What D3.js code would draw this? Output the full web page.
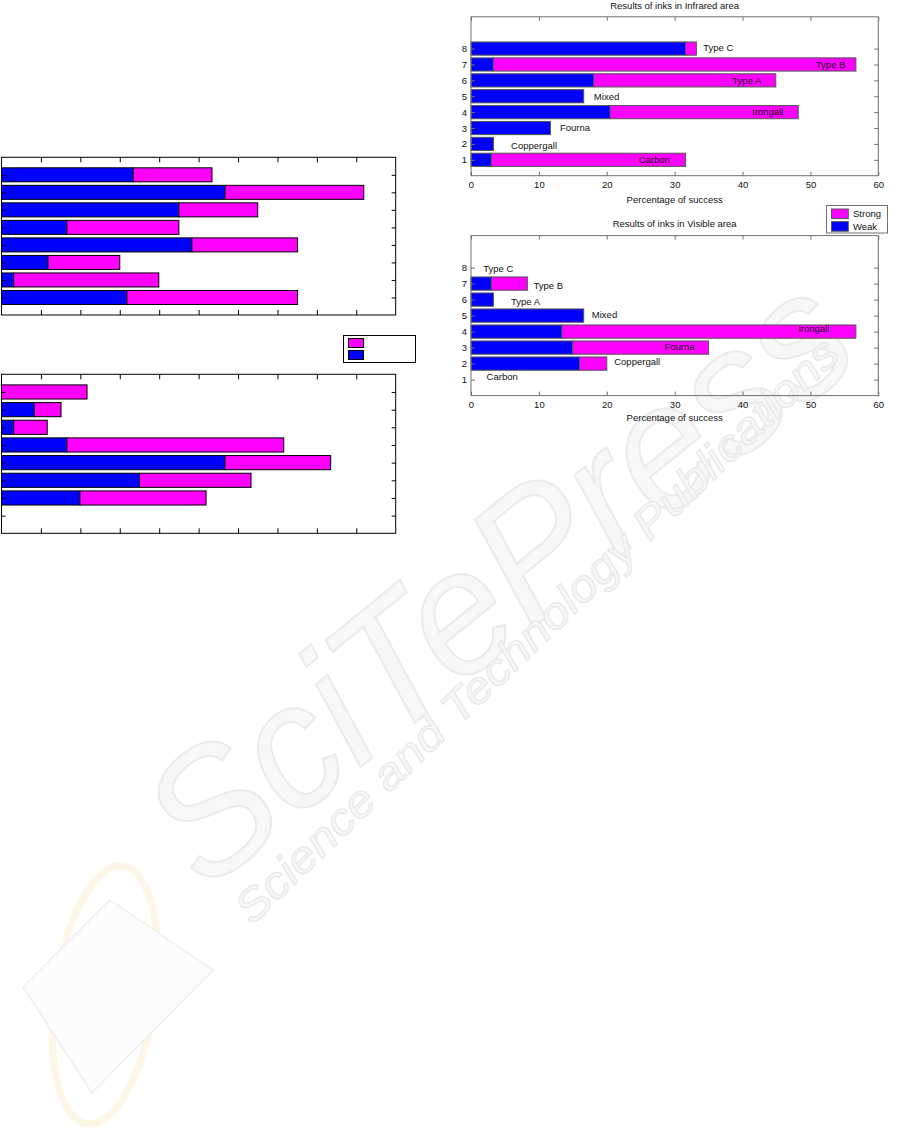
<!DOCTYPE html>
<html><head><meta charset="utf-8">
<script src="https://cdn.jsdelivr.net/npm/d3@7"></script>
<style>body{margin:0;background:#fff} svg{display:block}</style>
</head><body>
<svg id="c" width="906" height="1142"></svg>
<script>
// ---------- data ----------
const categories = [1, 2, 3, 4, 5, 6, 7, 8];
const inkNames = ["Carbon", "Coppergall", "Fourna", "Irongall", "Mixed", "Type A", "Type B", "Type C"];
const xTicks = [0, 10, 20, 30, 40, 50, 60];
const seriesNames = ["Strong", "Weak"];

// Infrared area (percentage of success)
const irWeak   = [3.0, 3.3, 11.7, 20.5, 16.6, 18.1, 3.3, 31.6];
const irStrong = [28.6, 0, 0, 27.7, 0, 26.8, 53.4, 1.6];
const irLabelX = [24.7, 5.9, 13.1, 41.4, 18.1, 38.5, 50.8, 34.2];
const irLabelY = [1.0, 1.88, 3.0, 4.0, 5.0, 6.0, 7.0, 8.05];

// Visible area (percentage of success)
const visWeak   = [0, 16.0, 15.0, 13.4, 16.6, 3.3, 3.0, 0];
const visStrong = [0, 4.0, 20.0, 43.3, 0, 0, 5.3, 0];
const visLabelX = [2.3, 21.1, 28.5, 48.2, 17.8, 5.9, 9.2, 1.8];
const visLabelY = [1.2, 2.15, 3.05, 4.2, 5.05, 5.87, 6.9, 7.95];

// partially visible figure on the left (no labels readable)
const leftTopWeak   = [3.18, 0.31, 1.18, 4.83, 1.66, 4.50, 5.67, 3.34];
const leftTopStrong = [4.33, 3.68, 1.82, 2.68, 2.84, 2.00, 3.52, 2.00];
const leftBotWeak   = [0, 1.99, 3.50, 5.67, 1.66, 0.31, 0.83, 0];
const leftBotStrong = [0, 3.20, 2.83, 2.68, 5.50, 0.85, 0.68, 2.17];
const leftXTicks = [1, 2, 3, 4, 5, 6, 7, 8, 9];

// ---------- styling ----------
const MAG = "#ff00ff", BLUE = "#0000ff";
const FONT = "'Liberation Sans', Arial, sans-serif";
const svg = d3.select("#c");
svg.append("rect").attr("width", 906).attr("height", 1142).attr("fill", "#fff");

// ---------- faint watermark ----------
const wm = svg.append("g");
wm.append("ellipse").attr("cx", 105).attr("cy", 995).attr("rx", 50).attr("ry", 130)
  .attr("transform", "rotate(8,105,995)")
  .attr("fill", "none").attr("stroke", "#fef6e6").attr("stroke-width", 7);
wm.append("polygon").attr("points", "110,900 213,970 92,1093 23,987")
  .attr("fill", "#fcfcfc").attr("stroke", "#efefef").attr("stroke-width", 1.5);
wm.append("text").attr("transform", "translate(205,893) rotate(-39)")
  .attr("font-family", FONT).attr("font-style", "italic").attr("font-size", 175)
  .attr("textLength", 850).attr("lengthAdjust", "spacingAndGlyphs")
  .attr("fill", "#f7f7f7").attr("stroke", "#ebebeb").attr("stroke-width", 2)
  .text("SciTePress");
wm.append("text").attr("transform", "translate(252,926) rotate(-44)")
  .attr("font-family", FONT).attr("font-style", "italic").attr("font-size", 44)
  .attr("textLength", 820).attr("lengthAdjust", "spacingAndGlyphs")
  .attr("fill", "#f8f8f8").attr("stroke", "#e9e9e9").attr("stroke-width", 1.2)
  .text("Science and Technology Publications");

// ---------- right charts ----------
function rightChart(opt) {
  const g = svg.append("g");
  const x = d3.scaleLinear().domain([0, 60]).range([471, 878.3]);
  const y = d3.scaleLinear().domain([0, 10]).range([opt.bottom, opt.top]);
  const bh = Math.abs(y(0) - y(0.83));
  const axisCol = "#707070";

  const rows = categories.map((c, i) => ({ c, w: opt.weak[i], s: opt.strong[i] }));
  g.selectAll("rect.w").data(rows.filter(d => d.w > 0)).join("rect")
    .attr("x", x(0)).attr("y", d => y(d.c) - bh / 2)
    .attr("width", d => x(d.w) - x(0)).attr("height", bh)
    .attr("fill", BLUE).attr("stroke", "#555").attr("stroke-width", 1);
  g.selectAll("rect.s").data(rows.filter(d => d.s > 0)).join("rect")
    .attr("x", d => x(d.w)).attr("y", d => y(d.c) - bh / 2)
    .attr("width", d => x(d.w + d.s) - x(d.w)).attr("height", bh)
    .attr("fill", MAG).attr("stroke", "#555").attr("stroke-width", 1);

  // labels
  g.selectAll("text.lab").data(inkNames).join("text")
    .attr("x", (d, i) => x(opt.lx[i])).attr("y", (d, i) => y(opt.ly[i]))
    .attr("dy", "0.35em").attr("font-family", FONT).attr("font-size", 9.5)
    .attr("fill", "#111").text(d => d);

  // axes
  const style = sel => {
    sel.select(".domain").remove();
    sel.selectAll("line").attr("stroke", axisCol);
    sel.selectAll("text").attr("font-family", FONT).attr("font-size", 9.5).attr("fill", "#111");
  };
  g.append("g").attr("transform", `translate(0,${opt.bottom})`)
    .call(d3.axisBottom(x).tickValues(xTicks).tickSizeInner(-4).tickSizeOuter(0).tickPadding(6))
    .call(style);
  g.append("g").attr("transform", `translate(0,${opt.top})`)
    .call(d3.axisTop(x).tickValues(xTicks).tickSizeInner(-4).tickSizeOuter(0).tickFormat(""))
    .call(style);
  g.append("g").attr("transform", `translate(${x(0)},0)`)
    .call(d3.axisLeft(y).tickValues(categories).tickSizeInner(-4).tickSizeOuter(0).tickPadding(4))
    .call(style);
  g.append("g").attr("transform", `translate(${x(60)},0)`)
    .call(d3.axisRight(y).tickValues(categories).tickSizeInner(-4).tickSizeOuter(0).tickFormat(""))
    .call(style);
  g.append("rect").attr("x", x(0)).attr("y", opt.top)
    .attr("width", x(60) - x(0)).attr("height", opt.bottom - opt.top)
    .attr("fill", "none").attr("stroke", axisCol).attr("stroke-width", 1);

  g.append("text").attr("x", (x(0) + x(60)) / 2).attr("y", opt.titleY)
    .attr("text-anchor", "middle").attr("font-family", FONT).attr("font-size", 9.5)
    .attr("fill", "#111").text(opt.title);
  g.append("text").attr("x", (x(0) + x(60)) / 2).attr("y", opt.xlabY)
    .attr("text-anchor", "middle").attr("font-family", FONT).attr("font-size", 9.5)
    .attr("fill", "#111").text("Percentage of success");
}

rightChart({ top: 16.8, bottom: 175.7, weak: irWeak, strong: irStrong, lx: irLabelX, ly: irLabelY,
  title: "Results of inks in Infrared area", titleY: 9, xlabY: 202.5 });
rightChart({ top: 235.6, bottom: 395.6, weak: visWeak, strong: visStrong, lx: visLabelX, ly: visLabelY,
  title: "Results of inks in Visible area", titleY: 226.5, xlabY: 420.5 });

// right legend
const lg = svg.append("g");
lg.append("rect").attr("x", 826.5).attr("y", 205.5).attr("width", 61).attr("height", 27.5)
  .attr("fill", "#fff").attr("stroke", "#707070");
const legCols = [MAG, BLUE];
seriesNames.forEach((n, i) => {
  lg.append("rect").attr("x", 831.5).attr("y", 209 + i * 12.6).attr("width", 16.8).attr("height", 9.6)
    .attr("fill", legCols[i]).attr("stroke", "#555");
  lg.append("text").attr("x", 853).attr("y", 214 + i * 12.6).attr("dy", "0.35em")
    .attr("font-family", FONT).attr("font-size", 9.5).attr("fill", "#111").text(n);
});

// ---------- left (clipped) charts ----------
function leftChart(opt) {
  const g = svg.append("g");
  const x = d3.scaleLinear().domain([0, 10]).range([1.5, 395.7]);
  const y = d3.scaleLinear().domain([0, 9]).range([opt.bottom, opt.top]);
  const bh = Math.abs(y(0) - y(0.8));
  const rows = categories.map((c, i) => ({ c, w: opt.weak[i], s: opt.strong[i] }));
  g.selectAll("rect.w").data(rows.filter(d => d.w > 0)).join("rect")
    .attr("x", x(0)).attr("y", d => y(d.c) - bh / 2)
    .attr("width", d => x(d.w) - x(0)).attr("height", bh)
    .attr("fill", BLUE).attr("stroke", "#000").attr("stroke-width", 1);
  g.selectAll("rect.s").data(rows.filter(d => d.s > 0)).join("rect")
    .attr("x", d => x(d.w)).attr("y", d => y(d.c) - bh / 2)
    .attr("width", d => x(d.w + d.s) - x(d.w)).attr("height", bh)
    .attr("fill", MAG).attr("stroke", "#000").attr("stroke-width", 1);
  const style = sel => { sel.select(".domain").remove(); sel.selectAll("line").attr("stroke", "#000"); };
  g.append("g").attr("transform", `translate(0,${opt.bottom})`)
    .call(d3.axisBottom(x).tickValues(leftXTicks).tickSizeInner(-5).tickSizeOuter(0).tickFormat("")).call(style);
  g.append("g").attr("transform", `translate(0,${opt.top})`)
    .call(d3.axisTop(x).tickValues(leftXTicks).tickSizeInner(-5).tickSizeOuter(0).tickFormat("")).call(style);
  g.append("g").attr("transform", `translate(${x(0)},0)`)
    .call(d3.axisLeft(y).tickValues(categories).tickSizeInner(-4).tickSizeOuter(0).tickFormat("")).call(style);
  g.append("g").attr("transform", `translate(${x(10)},0)`)
    .call(d3.axisRight(y).tickValues(categories).tickSizeInner(-4).tickSizeOuter(0).tickFormat("")).call(style);
  g.append("rect").attr("x", x(0)).attr("y", opt.top)
    .attr("width", x(10) - x(0)).attr("height", opt.bottom - opt.top)
    .attr("fill", "none").attr("stroke", "#000").attr("stroke-width", 1);
}
leftChart({ top: 157.3, bottom: 315, weak: leftTopWeak, strong: leftTopStrong });
leftChart({ top: 374.3, bottom: 533.3, weak: leftBotWeak, strong: leftBotStrong });

// left legend (text not visible in reference)
const lg2 = svg.append("g");
lg2.append("rect").attr("x", 343.5).attr("y", 335.5).attr("width", 72).attr("height", 27)
  .attr("fill", "#fff").attr("stroke", "#000");
seriesNames.forEach((n, i) => {
  lg2.append("rect").attr("x", 348.5).attr("y", 338.5 + i * 12).attr("width", 15).attr("height", 9)
    .attr("fill", legCols[i]).attr("stroke", "#000");
});
</script>
</body></html>
